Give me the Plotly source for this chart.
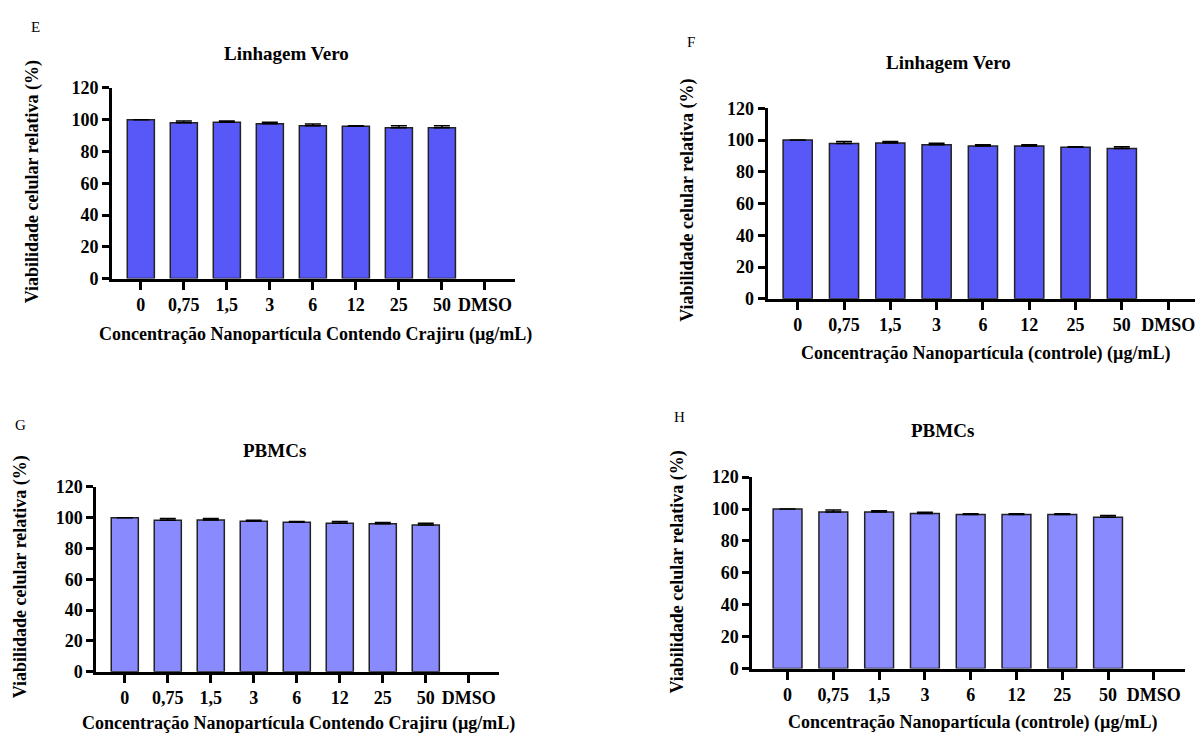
import plotly.graph_objects as go

W, H = 1197, 746

categories = ["0", "0,75", "1,5", "3", "6", "12", "25", "50", "DMSO"]

# Panel E: Linhagem Vero, nanoparticle with Crajiru
vero_crajiru = [100, 98.0, 98.4, 97.4, 96.1, 95.9, 94.9, 94.9, None]
vero_crajiru_err = [0, 1.2, 0.8, 1.0, 1.1, 0.2, 1.2, 1.2, 0]
# Panel F: Linhagem Vero, nanoparticle control
vero_controle = [100, 97.8, 98.2, 97.0, 96.2, 96.2, 95.5, 94.6, None]
vero_controle_err = [0, 1.2, 0.9, 0.9, 0.9, 0.9, 0.2, 1.2, 0]
# Panel G: PBMCs, nanoparticle with Crajiru
pbmc_crajiru = [100, 98.3, 98.5, 97.7, 97.0, 96.4, 96.0, 95.2, None]
pbmc_crajiru_err = [0, 1.2, 1.0, 0.6, 0.6, 1.2, 0.8, 1.2, 0]
# Panel H: PBMCs, nanoparticle control
pbmc_controle = [100, 98.2, 98.2, 97.2, 96.6, 96.6, 96.6, 94.8, None]
pbmc_controle_err = [0, 1.2, 0.8, 0.8, 0.5, 0.5, 0.5, 1.2, 0]

panel_letters = ["E", "F", "G", "H"]
panel_titles = ["Linhagem Vero", "Linhagem Vero", "PBMCs", "PBMCs"]
x_titles = [
    "Concentração Nanopartícula Contendo Crajiru (µg/mL)",
    "Concentração Nanopartícula (controle) (µg/mL)",
    "Concentração Nanopartícula Contendo Crajiru (µg/mL)",
    "Concentração Nanopartícula (controle) (µg/mL)",
]
y_title = "Viabilidade celular relativa (%)"
y_ticks = [0, 20, 40, 60, 80, 100, 120]

dark_blue = "#5858F8"
light_blue = "#8A8AFF"

FONT = "Liberation Serif, Times New Roman, Times, DejaVu Serif, serif"

# layout geometry in pixels: (x_left, x_right, y_top, y_bottom, xrange_left, xrange_right)
geom = [
    (112, 515, 80, 276, -0.67, 8.70),
    (767.6, 1195, 101, 296.7, -0.65, 8.58),
    (96.4, 499.3, 490, 680, -0.66, 8.71),
    (752.3, 1184.5, 480, 676.7, -0.77, 8.67),
]
# text positions in pixels
letter_pos = [(35, 17), (691, 33), (20, 426), (679, 418)]
title_pos = [(286, 45), (948, 54), (274, 453), (942, 432)]
ytitle_pos = [(32, 177), (688, 196), (20, 583), (678, 578)]
xtitle_pos = [(315, 333), (985, 353), (298, 733), (972, 732)]

series = [
    (vero_crajiru, vero_crajiru_err, dark_blue),
    (vero_controle, vero_controle_err, dark_blue),
    (pbmc_crajiru, pbmc_crajiru_err, light_blue),
    (pbmc_controle, pbmc_controle_err, light_blue),
]

fig = go.Figure()
annotations = []

def px(x):
    return x / W

def py(y):
    return 1 - y / H

for i, ((vals, errs, color), g) in enumerate(zip(series, geom)):
    n = "" if i == 0 else str(i + 1)
    xa, ya = "x" + n, "y" + n
    fig.add_trace(go.Bar(
        x=categories, y=vals, xaxis=xa, yaxis=ya,
        width=0.63,
        marker=dict(color=color, line=dict(color="#222222", width=1.5)),
        error_y=dict(type="data", array=errs, arrayminus=[0] * len(errs), symmetric=False,
                     color="black", thickness=1.5, width=8),
        showlegend=False,
    ))
    xl, xr, yt, yb, r0, r1 = g
    fig.layout["xaxis" + n] = dict(
        domain=[px(xl), px(xr)], anchor=ya, type="category", range=[r0, r1],
        showline=True, linecolor="black", linewidth=3, ticks="outside", ticklen=8,
        tickwidth=2.5, tickcolor="black", showgrid=False, zeroline=False,
        tickfont=dict(family=FONT, size=18, color="black", weight="bold"),
        fixedrange=True,
    )
    fig.layout["yaxis" + n] = dict(
        domain=[py(yb), py(yt)], anchor=xa, range=[0, 120],
        tickvals=y_ticks, showline=True, linecolor="black", linewidth=3,
        ticks="outside", ticklen=7, tickwidth=2.5, tickcolor="black",
        showgrid=False, zeroline=False,
        tickfont=dict(family=FONT, size=18, color="black", weight="bold"),
        fixedrange=True,
    )
    annotations.append(dict(text=panel_letters[i], x=px(letter_pos[i][0]), y=py(letter_pos[i][1]),
                            xref="paper", yref="paper", showarrow=False, xanchor="center", yanchor="middle",
                            font=dict(family=FONT, size=15, color="black")))
    annotations.append(dict(text="<b>" + panel_titles[i] + "</b>", x=px(title_pos[i][0]), y=py(title_pos[i][1]),
                            xref="paper", yref="paper", showarrow=False, xanchor="center", yanchor="middle",
                            font=dict(family=FONT, size=19, color="black")))
    annotations.append(dict(text="<b>" + y_title + "</b>", x=px(ytitle_pos[i][0]), y=py(ytitle_pos[i][1]),
                            xref="paper", yref="paper", showarrow=False, xanchor="center", yanchor="middle",
                            textangle=-90, font=dict(family=FONT, size=18, color="black")))
    annotations.append(dict(text="<b>" + x_titles[i] + "</b>", x=px(xtitle_pos[i][0]), y=py(xtitle_pos[i][1]),
                            xref="paper", yref="paper", showarrow=False, xanchor="center", yanchor="middle",
                            font=dict(family=FONT, size=18, color="black")))

fig.update_layout(
    width=W, height=H, margin=dict(l=0, r=0, t=0, b=0),
    paper_bgcolor="white", plot_bgcolor="white",
    font=dict(family=FONT),
    annotations=annotations, bargap=0.37,
)

fig.write_html("out.html", config={"displayModeBar": False})

# remove the default page margin so the figure sits at the top-left corner
with open("out.html", "r", encoding="utf-8") as f:
    html = f.read()
html = html.replace("<head>", "<head><style>html,body{margin:0;padding:0;overflow:hidden;}</style>", 1)
with open("out.html", "w", encoding="utf-8") as f:
    f.write(html)
